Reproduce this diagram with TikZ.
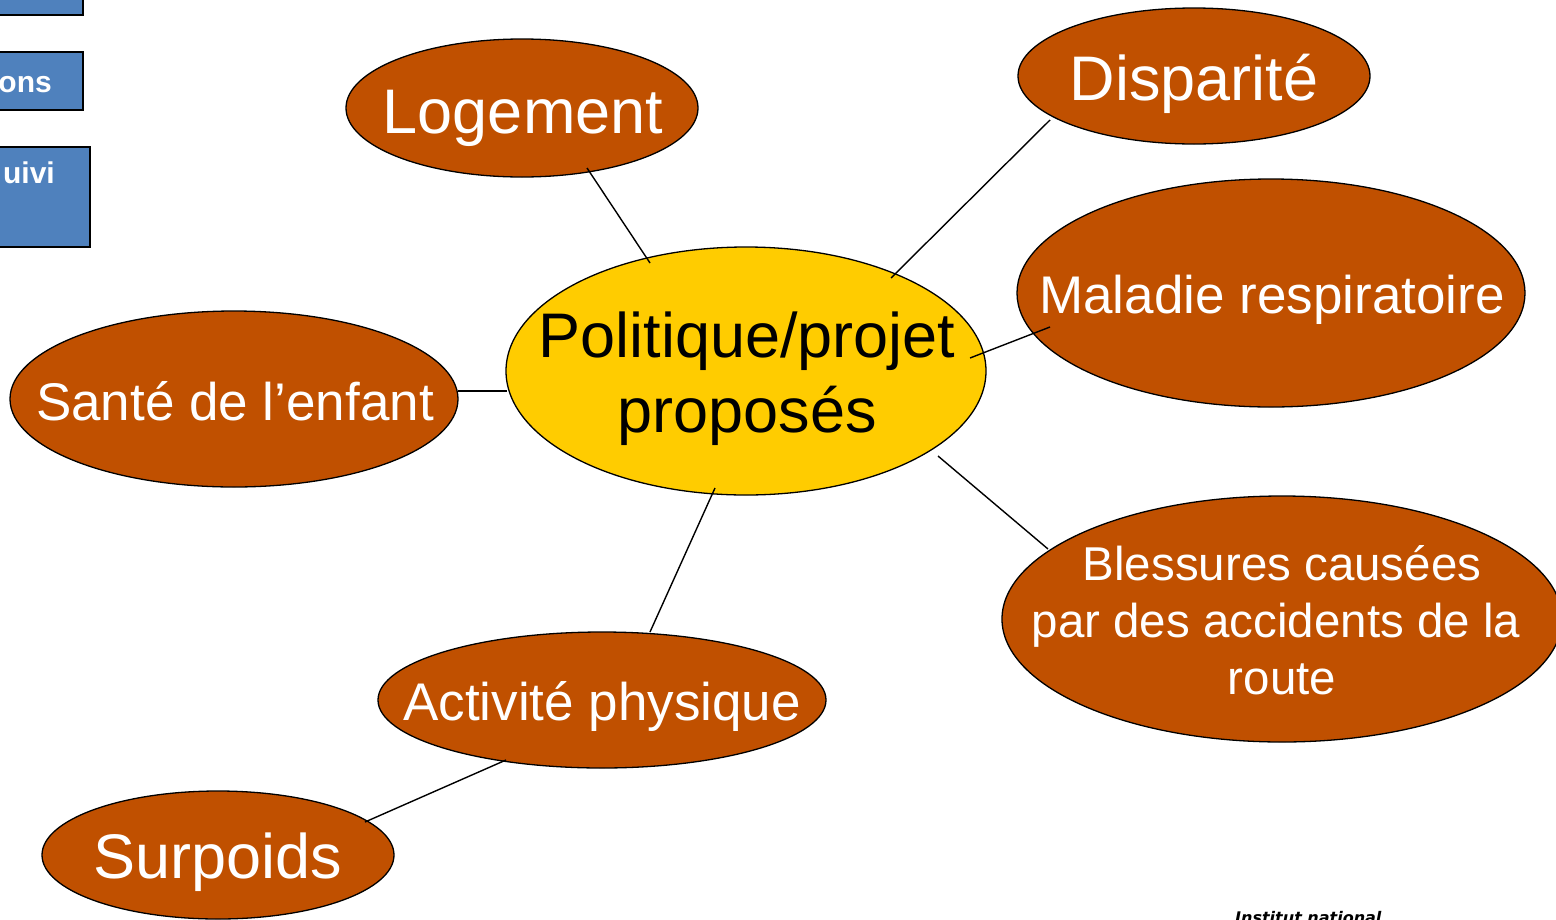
\documentclass[tikz,border=0pt]{standalone}
\usepackage{fontspec}
\setmainfont{Liberation Sans}
\newfontfamily\instfont{DejaVu Sans}
\usetikzlibrary{shapes.geometric,calc}
\definecolor{brownfill}{RGB}{192,80,0}
\definecolor{yellowfill}{RGB}{255,204,0}
\definecolor{bluefill}{RGB}{79,129,189}
\tikzset{
  topic/.style={ellipse,draw=black,line width=1.3pt,fill=brownfill,inner sep=0pt},
  center/.style={ellipse,draw=black,line width=1.3pt,fill=yellowfill,inner sep=0pt},
  lbl/.style={anchor=base,text=white,inner sep=0pt,align=center},
  conn/.style={draw=black,line width=1.4pt},
  menubox/.style={draw=black,line width=2pt,fill=bluefill},
  menutext/.style={anchor=base east,text=white,inner sep=0pt,font=\fontsize{30}{34}\selectfont\bfseries}
}
\begin{document}
\begin{tikzpicture}[x=1pt,y=-1pt]
\useasboundingbox (0,0) rectangle (1556,919);
\clip (0,0) rectangle (1556,919);
% side menu boxes
\node[menubox,minimum width=100pt,minimum height=30pt,inner sep=0pt] (m1) at (33,0) {};
\node[menubox,minimum width=100pt,minimum height=58pt,inner sep=0pt] (m2) at (33,81) {};
\node[menubox,minimum width=110pt,minimum height=100pt,inner sep=0pt] (m3) at (35,197) {};
\node[menutext] (t2) at (52,92) {ons};
\node[menutext] (t3) at (55,183) {uivi};
% ellipses
\node[center,minimum width=480pt,minimum height=248pt] (pol) at (746,371) {};
\node[topic,minimum width=352pt,minimum height=138pt] (log) at (522,108) {};
\node[topic,minimum width=352pt,minimum height=136pt] (dis) at (1194,76) {};
\node[topic,minimum width=508pt,minimum height=228pt] (mal) at (1271,293) {};
\node[topic,minimum width=448pt,minimum height=176pt] (san) at (234,399) {};
\node[topic,minimum width=560pt,minimum height=246pt] (ble) at (1282,619) {};
\node[topic,minimum width=448pt,minimum height=136pt] (act) at (602,700) {};
\node[topic,minimum width=352pt,minimum height=128pt] (sur) at (218,855) {};
% connectors
\draw[conn] ($(log.center)+(65,60)$) -- ($(pol.center)+(-96,-108)$);
\draw[conn] ($(dis.center)+(-144,44)$) -- ($(pol.center)+(145,-93)$);
\draw[conn] ($(mal.center)+(-221,34)$) -- ($(pol.center)+(224,-13)$);
\draw[conn] ($(san.center)+(224,-8)$) -- ($(pol.center)+(-239,20)$);
\draw[conn] ($(ble.center)+(-234,-70)$) -- ($(pol.center)+(192,85)$);
\draw[conn] ($(act.center)+(48,-68)$) -- ($(pol.center)+(-31,117)$);
\draw[conn] ($(sur.center)+(147,-33)$) -- ($(act.center)+(-96,60)$);
% labels
\node[lbl,text=black,font=\fontsize{63}{75}\selectfont] (polt) at (747,357) {Politique/projet};
\node[lbl,text=black,font=\fontsize{63}{75}\selectfont] (polt2) at (747,432) {proposés};
\node[lbl,font=\fontsize{63}{75}\selectfont] (logt) at (523,133) {Logement};
\node[lbl,font=\fontsize{63}{75}\selectfont] (dist) at (1194,100) {Disparité};
\node[lbl,font=\fontsize{53}{63}\selectfont] (malt) at (1272,313) {Maladie respiratoire};
\node[lbl,font=\fontsize{53}{63}\selectfont] (sant) at (235,420) {Santé de l’enfant};
\node[lbl,font=\fontsize{47.5}{57}\selectfont] (blet1) at (1282,580) {Blessures causées};
\node[lbl,font=\fontsize{47.5}{57}\selectfont] (blet2) at (1276,637) {par des accidents de la};
\node[lbl,font=\fontsize{47.5}{57}\selectfont] (blet3) at (1282,694) {route};
\node[lbl,font=\fontsize{53}{63}\selectfont] (actt) at (602,720) {Activité physique};
\node[lbl,font=\fontsize{63}{75}\selectfont] (surt) at (218,878) {Surpoids};
% footer
\node[anchor=base west,inner sep=0pt,font=\instfont\fontsize{16}{19}\selectfont\bfseries\itshape] (inst) at (1235,923) {Institut national};
\end{tikzpicture}
\end{document}
